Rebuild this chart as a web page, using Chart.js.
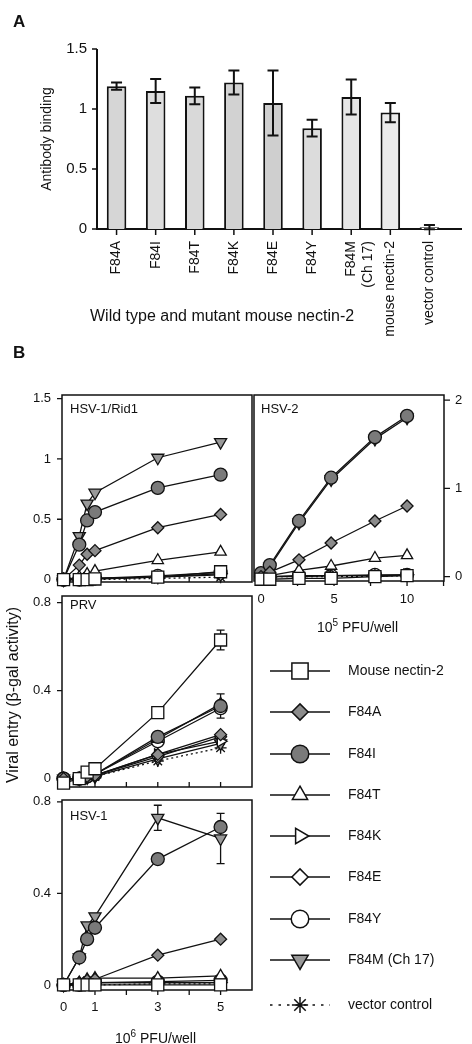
<!DOCTYPE html>
<html>
<head>
<meta charset="utf-8">
<title>Nectin-2 mutants: antibody binding and viral entry</title>
<script src="https://cdn.jsdelivr.net/npm/chart.js@4"></script>
<style>
  body { margin: 0; background: #fff; }
  #page { position: relative; width: 472px; height: 1044px; overflow: hidden;
          font-family: 'Liberation Sans', Arial, Helvetica, sans-serif; color: #111; }
  #page canvas { position: absolute; }
  .txt { position: absolute; white-space: nowrap; line-height: 1; font-size: 14px; }
  .rot { transform: translate(-50%, -50%) rotate(-90deg); }
  sup { font-size: 10px; vertical-align: 6px; line-height: 0; }
</style>
</head>
<body>
<div id="page">
  <canvas id="binding" width="472" height="345" style="left:0px;top:0px"></canvas>
  <canvas id="rid1" width="262" height="227" style="left:0px;top:375px"></canvas>
  <canvas id="hsv2" width="228" height="245" style="left:244px;top:375px"></canvas>
  <canvas id="prv" width="262" height="231" style="left:0px;top:576px"></canvas>
  <canvas id="hsv1" width="262" height="264" style="left:0px;top:780px"></canvas>
  <canvas id="legend" width="222" height="400" style="left:250px;top:640px"></canvas>

  <div class="txt" style="left:13px;top:13px;font-size:17px;font-weight:bold">A</div>
  <div class="txt" style="left:13px;top:344px;font-size:17px;font-weight:bold">B</div>
  <div class="txt" style="left:90px;top:308px;font-size:16px">Wild type and mutant mouse nectin-2</div>
  <div class="txt" style="left:70px;top:402px;font-size:13px">HSV-1/Rid1</div>
  <div class="txt" style="left:261px;top:402px;font-size:13px">HSV-2</div>
  <div class="txt" style="left:70px;top:598px;font-size:13px">PRV</div>
  <div class="txt" style="left:70px;top:809px;font-size:13px">HSV-1</div>
  <div class="txt" style="left:317px;top:620px">10<sup>5</sup> PFU/well</div>
  <div class="txt" style="left:115px;top:1031px">10<sup>6</sup> PFU/well</div>
  <div class="txt rot" style="left:13px;top:695px;font-size:16px">Viral entry (β-gal activity)</div>
</div>

<script>
// ---- panel A: antibody binding ----
const bindLabels = ['F84A', 'F84I', 'F84T', 'F84K', 'F84E', 'F84Y', ['F84M', '(Ch 17)'], 'mouse nectin-2', 'vector control'];
const bindValues = [1.19, 1.15, 1.11, 1.22, 1.05, 0.84, 1.10, 0.97, 0.015];
const bindErr = [0.03, 0.10, 0.07, 0.10, 0.27, 0.07, 0.145, 0.08, 0.018];
const bindTicks = [0, 0.5, 1, 1.5];

// ---- panel B: viral entry ----
// every values table below follows this series order
const seriesNames = ['Mouse nectin-2', 'F84A', 'F84I', 'F84T', 'F84K', 'F84E', 'F84Y', 'F84M (Ch 17)', 'vector control'];
const dose6 = [0, 0.5, 0.75, 1, 3, 5];      // 10^6 PFU/well
const dose5 = [0, 0.6, 2.6, 4.8, 7.8, 10];  // 10^5 PFU/well

const rid1Values = [
  [0, 0, 0, 0.005, 0.02, 0.065],
  [0, 0.12, 0.21, 0.24, 0.43, 0.54],
  [0, 0.29, 0.49, 0.56, 0.76, 0.87],
  [0, 0.02, 0.045, 0.07, 0.16, 0.23],
  [0, 0, 0.01, 0.01, 0.02, 0.05],
  [0, 0, 0.005, 0.01, 0.02, 0.04],
  [0, 0, 0.01, 0.01, 0.03, 0.06],
  [0, 0.36, 0.63, 0.72, 1.01, 1.14],
  [0, 0, 0, 0, 0.01, 0.02]
];
const hsv2Values = [
  [-0.03, -0.03, -0.02, -0.02, 0, 0.01],
  [0, 0.05, 0.19, 0.38, 0.63, 0.80],
  [0.04, 0.13, 0.63, 1.12, 1.58, 1.82],
  [0, 0.01, 0.07, 0.12, 0.21, 0.24],
  [0, 0, 0, 0.01, 0.01, 0.02],
  [0, 0, 0.005, 0.01, 0.01, 0.015],
  [0, 0, 0.01, 0.01, 0.02, 0.02],
  [0.02, 0.11, 0.61, 1.10, 1.56, 1.80],
  [0, 0, 0, 0, 0.005, 0.01]
];
const prvValues = [
  [-0.02, 0, 0.03, 0.045, 0.30, 0.63],
  [0, 0, 0.01, 0.015, 0.11, 0.20],
  [0, 0, 0.01, 0.02, 0.19, 0.33],
  [0, 0, 0.01, 0.02, 0.18, 0.34],
  [0, 0, 0.01, 0.015, 0.11, 0.17],
  [0, 0, 0.01, 0.015, 0.10, 0.19],
  [0, 0, 0.01, 0.02, 0.17, 0.32],
  [0, 0, 0.005, 0.01, 0.09, 0.16],
  [0, 0, 0.005, 0.01, 0.08, 0.14]
];
const prvErr = [[0, 0, 0, 0, 0, 0.045], null, [0, 0, 0, 0, 0, 0.055], null, null, null, null, null, null];
const hsv1Values = [
  [0, 0, 0, 0, 0, 0],
  [0, 0.01, 0.02, 0.025, 0.13, 0.20],
  [0, 0.12, 0.20, 0.25, 0.55, 0.69],
  [0, 0.01, 0.025, 0.03, 0.03, 0.04],
  [0, 0, 0.01, 0.01, 0.01, 0.01],
  [0, 0, 0.005, 0.01, 0.01, 0.01],
  [0, 0, 0.01, 0.01, 0.015, 0.02],
  [0, 0.12, 0.26, 0.30, 0.73, 0.64],
  [0, 0, 0, 0, 0.005, 0.005]
];
const hsv1Err = [null, null, null, null, null, null, null, [0, 0, 0, 0, 0.055, 0.11], null];

const rid1YTicks = [0, 0.5, 1, 1.5];
const hsv2YTicks = [0, 1, 2];
const prvYTicks = [0, 0.4, 0.8];
const hsv1YTicks = [0, 0.4, 0.8];
const dose6Ticks = [0, 1, 3, 5];
const dose6Marks = [1, 2, 3, 4, 5];
const dose5Ticks = [0, 5, 10];
const dose5Marks = [2.5, 5, 7.5, 10, 12.5];

// styles
const barFills = ['#d6d6d6', '#dedede', '#d9d9d9', '#d2d2d2', '#cfcfcf', '#dcdcdc', '#e6e6e6', '#ebebeb', '#ffffff'];
const markStyles = [
  { style: 'rect', r: 8.5, fill: '#ffffff' },
  { style: 'rectRot', r: 6, fill: '#8c8c8c' },
  { style: 'circle', r: 6.5, fill: '#7a7a7a' },
  { style: 'triangle', r: 6.5, fill: '#ffffff' },
  { style: 'triangle', r: 6.5, rot: 90, fill: '#ffffff' },
  { style: 'rectRot', r: 6, fill: '#ffffff' },
  { style: 'circle', r: 6.5, fill: '#ffffff' },
  { style: 'triangle', r: 7, rot: 180, fill: '#999999' },
  { style: 'star', r: 6, fill: '#ffffff', dash: [2, 3] }
];

Chart.defaults.font.family = "'Liberation Sans', Arial, Helvetica, sans-serif";
Chart.defaults.font.size = 13;
Chart.defaults.color = '#111';
Chart.defaults.animation = false;
Chart.defaults.responsive = false;
Chart.defaults.plugins.legend.display = false;
Chart.defaults.plugins.tooltip.enabled = false;

// axis lines, box and tick marks are drawn here so the marks can point inward
const framePlugin = {
  id: 'frame',
  beforeDatasetsDraw(chart, args, o) {
    const { ctx, chartArea: a } = chart;
    const xs = chart.scales.x, ys = chart.scales.y;
    ctx.save();
    ctx.strokeStyle = '#111';
    ctx.lineWidth = o.lw;
    ctx.beginPath();
    if (o.box) {
      ctx.rect(a.left, a.top, a.right - a.left, a.bottom - a.top);
    } else {
      ctx.moveTo(a.left, a.top);
      ctx.lineTo(a.left, a.bottom);
      ctx.lineTo(a.right + o.extend, a.bottom);
    }
    ctx.stroke();
    ctx.lineWidth = o.markW;
    ctx.beginPath();
    const edge = o.yRight ? a.right : a.left;
    o.yMarks.forEach(v => {
      const py = ys.getPixelForValue(v);
      ctx.moveTo(edge, py);
      ctx.lineTo(edge + o.yLen, py);
    });
    o.xMarks.forEach(v => {
      const px = xs.getPixelForValue(v);
      ctx.moveTo(px, a.bottom);
      ctx.lineTo(px, a.bottom + o.xLen);
    });
    ctx.stroke();
    ctx.restore();
  }
};

function drawErrors(chart, o) {
  const { ctx } = chart;
  const ys = chart.scales.y;
  ctx.save();
  ctx.strokeStyle = '#111';
  ctx.lineWidth = o.lw;
  ctx.beginPath();
  chart.data.datasets.forEach((ds, k) => {
    if (!ds.err) return;
    chart.getDatasetMeta(k).data.forEach((el, i) => {
      const e = ds.err[i];
      if (!e) return;
      const raw = ds.data[i];
      const v = typeof raw === 'number' ? raw : raw.y;
      const top = ys.getPixelForValue(v + e);
      const bot = ys.getPixelForValue(v - e);
      ctx.moveTo(el.x, top); ctx.lineTo(el.x, bot);
      ctx.moveTo(el.x - o.cap / 2, top); ctx.lineTo(el.x + o.cap / 2, top);
      ctx.moveTo(el.x - o.cap / 2, bot); ctx.lineTo(el.x + o.cap / 2, bot);
    });
  });
  ctx.stroke();
  ctx.restore();
}

const errPlugin = {
  id: 'errbars',
  beforeDatasetsDraw(chart, args, o) { if (o.under) drawErrors(chart, o); },
  afterDatasetsDraw(chart, args, o) { if (!o.under) drawErrors(chart, o); }
};

const noGrid = { display: false, drawTicks: false };
const noBorder = { display: false };

// panel A
new Chart(document.getElementById('binding'), {
  type: 'bar',
  data: {
    labels: bindLabels,
    datasets: [{
      data: bindValues,
      err: bindErr,
      backgroundColor: barFills,
      borderColor: '#111',
      borderWidth: 2,
      barPercentage: 0.5,
      categoryPercentage: 1
    }]
  },
  options: {
    layout: { padding: { top: 49, right: 23, left: 0, bottom: 0 } },
    scales: {
      x: {
        grid: noGrid, border: noBorder,
        ticks: { minRotation: 90, maxRotation: 90, autoSkip: false, padding: 12, font: { size: 14 } },
        afterFit: s => { s.height = 116; }
      },
      y: {
        min: 0, max: 1.5,
        grid: noGrid, border: noBorder,
        afterBuildTicks: s => { s.ticks = bindTicks.map(v => ({ value: v })); },
        ticks: { padding: 10, font: { size: 15 }, callback: v => String(v) },
        title: { display: true, text: 'Antibody binding', padding: { top: 39, bottom: 0 }, font: { size: 14 } },
        afterFit: s => { s.width = 97; }
      }
    },
    plugins: {
      frame: { box: false, lw: 2, extend: 13, markW: 1.5, yRight: false, yMarks: bindTicks, yLen: -5,
               xMarks: bindValues.map((v, i) => i), xLen: 6 },
      errbars: { cap: 11, lw: 2, under: false }
    }
  },
  plugins: [framePlugin, errPlugin]
});

// panel B; 20px of layout padding at the top and an x-axis band of 20px or more
// leave room for the y labels so chart.js keeps the plot area where it is set
function entryChart(id, xs, values, err, o) {
  const datasets = values.map((ys, k) => {
    const m = markStyles[k];
    return {
      label: seriesNames[k],
      data: xs.map((x, i) => ({ x: x, y: ys[i] })),
      err: err ? err[k] : null,
      borderColor: '#111',
      borderWidth: 1.3,
      borderDash: m.dash || [],
      pointStyle: m.style,
      pointRotation: m.rot || 0,
      pointRadius: m.r,
      pointBackgroundColor: m.fill,
      pointBorderColor: '#111',
      pointBorderWidth: 1.3,
      clip: false
    };
  });
  return new Chart(document.getElementById(id), {
    type: 'line',
    data: { datasets: datasets },
    options: {
      layout: { padding: o.pad },
      scales: {
        x: {
          type: 'linear', min: o.xMin, max: o.xMax,
          grid: noGrid, border: noBorder,
          afterBuildTicks: s => { s.ticks = o.xTicks.map(v => ({ value: v })); },
          ticks: { display: o.xLabels, padding: o.xPad, callback: v => String(v) },
          afterFit: s => { s.height = o.xH; }
        },
        y: {
          position: o.yRight ? 'right' : 'left',
          min: o.yMin, max: o.yMax,
          grid: noGrid, border: noBorder,
          afterBuildTicks: s => { s.ticks = o.yTicks.map(v => ({ value: v })); },
          ticks: { padding: 11, callback: v => String(v) },
          afterFit: s => { s.width = o.yW; }
        }
      },
      plugins: {
        frame: { box: true, lw: 1.5, markW: 1.3, yRight: o.yRight, yMarks: o.yTicks, yLen: o.yRight ? 6 : -5,
                 xMarks: o.xMarks, xLen: o.xLen },
        errbars: { cap: 8, lw: 1.3, under: true }
      }
    },
    plugins: [framePlugin, errPlugin]
  });
}

entryChart('rid1', dose6, rid1Values, null, {
  pad: { top: 20, right: 10, left: 0, bottom: 0 }, yW: 62, xH: 20,
  xMin: -0.05, xMax: 6, xTicks: dose6Ticks, xLabels: false, xPad: 10, xMarks: dose6Marks, xLen: -5,
  yMin: -0.02, yMax: 1.53, yTicks: rid1YTicks, yRight: false
});
entryChart('hsv2', dose5, hsv2Values, null, {
  pad: { top: 20, right: 0, left: 10, bottom: 0 }, yW: 28, xH: 39,
  xMin: -0.48, xMax: 12.53, xTicks: dose5Ticks, xLabels: true, xPad: 11, xMarks: dose5Marks, xLen: 5,
  yMin: -0.05, yMax: 2.057, yTicks: hsv2YTicks, yRight: true
});
entryChart('prv', dose6, prvValues, prvErr, {
  pad: { top: 20, right: 10, left: 0, bottom: 0 }, yW: 62, xH: 20,
  xMin: -0.05, xMax: 6, xTicks: dose6Ticks, xLabels: false, xPad: 10, xMarks: dose6Marks, xLen: -5,
  yMin: -0.038, yMax: 0.83, yTicks: prvYTicks, yRight: false
});
entryChart('hsv1', dose6, hsv1Values, hsv1Err, {
  pad: { top: 20, right: 10, left: 0, bottom: 0 }, yW: 62, xH: 54,
  xMin: -0.05, xMax: 6, xTicks: dose6Ticks, xLabels: true, xPad: 10, xMarks: dose6Marks, xLen: 5,
  yMin: -0.022, yMax: 0.808, yTicks: hsv1YTicks, yRight: false
});

// legend (line - marker - line, then the name)
(function drawLegend() {
  const rowsY = [31, 72, 114, 155, 196, 237, 279, 320, 365];
  const ctx = document.getElementById('legend').getContext('2d');
  ctx.font = "14px 'Liberation Sans', Arial, Helvetica, sans-serif";
  ctx.textBaseline = 'middle';
  seriesNames.forEach((name, k) => {
    const m = markStyles[k];
    const y = rowsY[k];
    ctx.save();
    ctx.strokeStyle = '#111';
    ctx.lineWidth = 1.5;
    ctx.setLineDash(m.dash ? [2.5, 6] : []);
    ctx.beginPath();
    ctx.moveTo(20, y);
    ctx.lineTo(80, y);
    ctx.stroke();
    ctx.setLineDash([]);
    ctx.fillStyle = m.fill;
    if (Chart.helpers && Chart.helpers.drawPoint) {
      Chart.helpers.drawPoint(ctx, { pointStyle: m.style, rotation: m.rot || 0, radius: m.r * 1.35, borderWidth: 1.5 }, 50, y);
    } else {
      ctx.beginPath();
      ctx.arc(50, y, m.r * 1.35, 0, Math.PI * 2);
      ctx.fill();
      ctx.stroke();
    }
    ctx.restore();
    ctx.fillStyle = '#111';
    ctx.fillText(name, 98, y);
  });
})();
</script>
</body>
</html>
